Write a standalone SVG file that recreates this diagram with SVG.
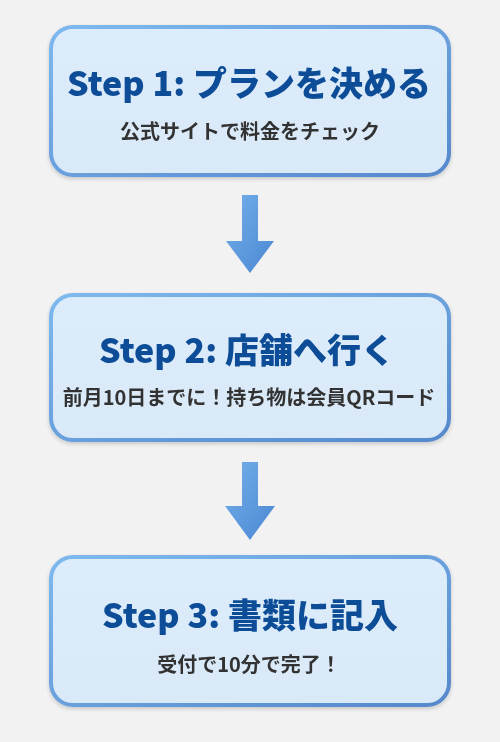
<svg xmlns="http://www.w3.org/2000/svg" width="500" height="742" viewBox="0 0 500 742">
  <defs>
    <linearGradient id="border" x1="0" y1="0" x2="1" y2="1">
      <stop offset="0" stop-color="#7db9ee"/>
      <stop offset="1" stop-color="#5688cc"/>
    </linearGradient>
    <linearGradient id="fill" x1="0" y1="0" x2="0" y2="1">
      <stop offset="0" stop-color="#dcecfb"/>
      <stop offset="1" stop-color="#d9e9f8"/>
    </linearGradient>
    <linearGradient id="arrowFill" x1="0" y1="0" x2="1" y2="1">
      <stop offset="0" stop-color="#74b0ea"/>
      <stop offset="1" stop-color="#4a87d2"/>
    </linearGradient>
    <filter id="shadow" x="-10%" y="-10%" width="120%" height="130%">
      <feGaussianBlur in="SourceAlpha" stdDeviation="2"/>
      <feOffset dy="1.5"/>
      <feComponentTransfer><feFuncA type="linear" slope="0.18"/></feComponentTransfer>
      <feMerge><feMergeNode/><feMergeNode in="SourceGraphic"/></feMerge>
    </filter>
  </defs>
  <style>
    .box { fill: url(#fill); stroke: url(#border); stroke-width: 4; }
    .title { font-family: "Noto Sans CJK JP", "Noto Sans", sans-serif; font-weight: 900; font-size: 34px; fill: #0c4d98; text-anchor: middle; }
    .sub { font-family: "Noto Sans CJK JP", "Noto Sans", sans-serif; font-weight: 700; font-size: 20px; fill: #333333; text-anchor: middle; }
    .arrow { fill: url(#arrowFill); }
  </style>
  <rect width="500" height="742" fill="#f2f2f2"/>

  <g id="step1" filter="url(#shadow)">
    <rect class="box" x="51" y="27" width="398" height="148" rx="22"/>
    <text class="title" x="249" y="96">Step 1: プランを決める</text>
    <text class="sub" x="250" y="139">公式サイトで料金をチェック</text>
  </g>

  <g id="step2" filter="url(#shadow)">
    <rect class="box" x="51" y="295" width="398" height="145" rx="22"/>
    <text class="title" x="247" y="363">Step 2: 店舗へ行く</text>
    <text class="sub" x="249" y="405">前月10日までに！持ち物は会員QRコード</text>
  </g>

  <g id="step3" filter="url(#shadow)">
    <rect class="box" x="51" y="557" width="398" height="148" rx="22"/>
    <text class="title" x="250" y="628">Step 3: 書類に記入</text>
    <text class="sub" x="249" y="672">受付で10分で完了！</text>
  </g>

  <g id="connectors">
    <polygon class="arrow" points="242,195 258,195 258,241 274,241 250,273 226,241 242,241"/>
    <polygon class="arrow" points="242,462 258,462 258,506 275,506 250,540 225,506 242,506"/>
  </g>
</svg>
